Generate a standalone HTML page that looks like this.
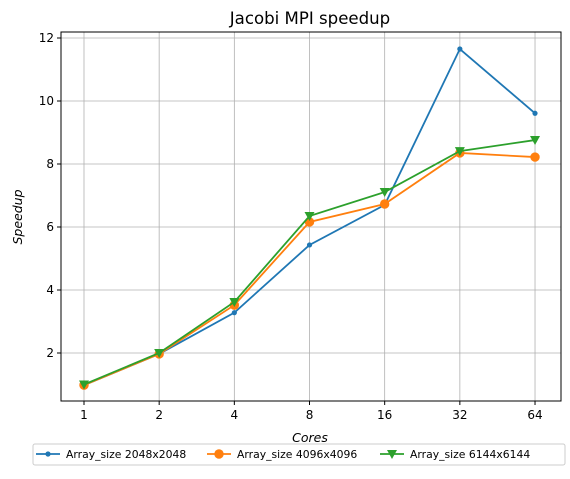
<!DOCTYPE html>
<html><head><meta charset="utf-8"><style>
body{margin:0;background:#fff;}
svg text{font-family:"DejaVu Sans","Liberation Sans",sans-serif;}
</style></head><body>
<svg id="c" width="570" height="474" xmlns="http://www.w3.org/2000/svg">
<rect x="0" y="0" width="570" height="474" fill="#fff"/>
<text x="310" y="24" font-size="16.6" text-anchor="middle">Jacobi MPI speedup</text>
<text x="310" y="442" font-size="12.5" font-style="italic" text-anchor="middle">Cores</text>
<text x="22" y="217" font-size="12.5" font-style="italic" text-anchor="middle" transform="rotate(-90 22 217)">Speedup</text>
<g id="grid"></g><g id="series"></g>
<rect x="61" y="32" width="500" height="369" fill="none" stroke="#000" stroke-width="1"/>
<g id="ticks"></g>
<g>
<rect x="33" y="444" width="532" height="21" rx="2" fill="#fff" stroke="#ccc"/>
<g id="legend"></g>
</g>
</svg>
<script>
const categories=["1","2","4","8","16","32","64"];
const yTicks=[2,4,6,8,10,12];
const s2048=[0.98,1.97,3.28,5.43,6.70,11.65,9.61];
const s4096=[0.98,1.97,3.52,6.16,6.73,8.35,8.22];
const s6144=[1.00,2.00,3.62,6.35,7.11,8.41,8.76];
const names=["Array_size 2048x2048","Array_size 4096x4096","Array_size 6144x6144"];
const NS="http://www.w3.org/2000/svg";
function xS(i){return 84+i*75.17;}
function yS(v){return 416-v*31.5;}
function mk(t,a,p){const e=document.createElementNS(NS,t);for(const k in a)e.setAttribute(k,a[k]);p.appendChild(e);return e;}
const grid=document.getElementById('grid'),ticks=document.getElementById('ticks'),ser=document.getElementById('series'),leg=document.getElementById('legend');
categories.forEach((c,i)=>{const x=xS(i);
mk('line',{x1:x,x2:x,y1:32,y2:401,stroke:'#b0b0b0','stroke-width':0.8},grid);
mk('line',{x1:x,x2:x,y1:401,y2:405,stroke:'#000'},ticks);
const t=mk('text',{x:x,y:419,'font-size':12,'text-anchor':'middle'},ticks);t.textContent=c;

});
yTicks.forEach(v=>{const y=yS(v);
mk('line',{x1:61,x2:561,y1:y,y2:y,stroke:'#b0b0b0','stroke-width':0.8},grid);
mk('line',{x1:57,x2:61,y1:y,y2:y,stroke:'#000'},ticks);
const t=mk('text',{x:54,y:y+4,'font-size':12,'text-anchor':'end'},ticks);t.textContent=v;

});
function marker(kind,x,y,col,p){
 if(kind==0)return mk('circle',{cx:x,cy:y,r:2.6,fill:col},p);
 if(kind==1)return mk('circle',{cx:x,cy:y,r:4.7,fill:col},p);
 return mk('polygon',{points:`${x-5},${y-4} ${x+5},${y-4} ${x},${y+5}`,fill:col},p);}
const all=[s2048,s4096,s6144],cols=["#1f77b4","#ff7f0e","#2ca02c"];
all.forEach((d,k)=>{const g=mk('g',{},ser);


mk('polyline',{points:d.map((v,i)=>xS(i)+','+yS(v)).join(' '),fill:'none',stroke:cols[k],'stroke-width':1.8},g);
d.forEach((v,i)=>{const m=marker(k,xS(i),yS(v),cols[k],g);

});});
const lx=[36,207,380];
names.forEach((n,k)=>{const g=mk('g',{},leg);


mk('line',{x1:lx[k],x2:lx[k]+24,y1:454,y2:454,stroke:cols[k],'stroke-width':1.8},g);
marker(k,lx[k]+12,454,cols[k],g);
const t=mk('text',{x:lx[k]+30,y:458,'font-size':10.8},g);t.textContent=n;});
</script>
</body></html>
